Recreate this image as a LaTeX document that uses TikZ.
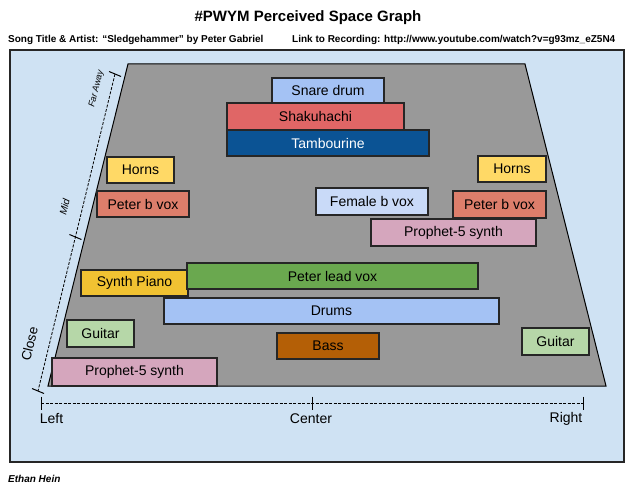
\documentclass[tikz,border=0pt]{standalone}
\usepackage{fontspec}
\setmainfont{Liberation Sans}
\usetikzlibrary{calc}
\definecolor{panelblue}{HTML}{CFE2F3}
\definecolor{trapgray}{HTML}{999999}
\definecolor{cSnare}{HTML}{A4C2F4}
\definecolor{cShaku}{HTML}{E06666}
\definecolor{cTamb}{HTML}{0B5394}
\definecolor{cHorns}{HTML}{FFD966}
\definecolor{cPbv}{HTML}{DD7E6B}
\definecolor{cFem}{HTML}{C9DAF8}
\definecolor{cPro}{HTML}{D5A6BD}
\definecolor{cSynth}{HTML}{F1C232}
\definecolor{cLead}{HTML}{6AA84F}
\definecolor{cGuit}{HTML}{B6D7A8}
\definecolor{cBass}{HTML}{B45F06}
\begin{document}
\begin{tikzpicture}[x=1pt,y=-1pt,
  box/.style={draw=black!85,line width=1.3pt,inner sep=0pt,font=\fontsize{14}{16}\selectfont},
  panelbox/.style={draw=black!85,line width=1.5pt,fill=panelblue,inner sep=0pt},
  trap/.style={draw=black,line width=1pt,fill=trapgray},
  axisdash/.style={line width=0.8pt,dash pattern=on 3pt off 1.5pt},
  tickline/.style={line width=1pt},
  axislabel/.style={font=\fontsize{14}{16}\selectfont,inner sep=0pt},
  toptext/.style={font=\fontsize{10}{12}\selectfont\bfseries,inner sep=0pt,anchor=west}]
\useasboundingbox[fill=white] (0,0) rectangle (638,500);
% title and header texts
\node[font=\fontsize{15}{18}\selectfont\bfseries,inner sep=0pt] (title) at (308,18) {\#PWYM Perceived Space Graph};
\node[toptext] (song) at (8,40) {Song Title \& Artist: “Sledgehammer” by Peter Gabriel};
\node[toptext] (link) at (292,40) {Link to Recording: http://www.youtube.com/watch?v=g93mz\_eZ5N4};
\node[toptext,font=\fontsize{10}{12}\selectfont\bfseries\itshape] (author) at (8,479) {Ethan Hein};
% panel
\node[panelbox,minimum width=614pt,minimum height=412pt] (panel) at (317,256) {};
% trapezoid
\coordinate (tl) at (128,64);
\coordinate (tr) at (525,64);
\coordinate (br) at (606,386);
\coordinate (bl) at (48,386);
\draw[trap] (tl) -- (tr) -- (br) -- (bl) -- cycle;
% horizontal axis
\coordinate (hl) at (41,403);
\coordinate (hc) at (312,403);
\coordinate (hr) at (583,403);
\draw[axisdash] (hl) -- (hr);
\foreach \p in {hl,hc,hr}{\draw[tickline] ($(\p)+(0,-6.5)$) -- ($(\p)+(0,6.5)$);}
\node[axislabel] (lleft) at (51.5,419) {Left};
\node[axislabel] (lcenter) at (311,419) {Center};
\node[axislabel] (lright) at (566,419) {Right};
% vertical (depth) axis
\coordinate (vt) at (115,74);
\coordinate (vm) at (75.4,237);
\coordinate (vb) at (38,391);
\draw[axisdash] (vt) -- (vb);
\foreach \p in {vt,vm,vb}{\draw[tickline] ($(\p)+(-6,-2.5)$) -- ($(\p)+(6,2.5)$);}
\node[inner sep=0pt,rotate=76.3,font=\fontsize{9}{11}\selectfont\itshape] (far) at (96.5,89) {Far Away};
\node[inner sep=0pt,rotate=76.3,font=\fontsize{10}{12}\selectfont\itshape] (mid) at (64.5,207) {Mid};
\node[inner sep=0pt,rotate=76.3,font=\fontsize{13.5}{16}\selectfont] (close) at (29.5,344) {Close};
% instrument boxes
\node[box,fill=cTamb,text=white,minimum width=202pt,minimum height=26pt] (tamb) at (328,143) {Tambourine};
\node[box,fill=cShaku,minimum width=177pt,minimum height=27pt] (shaku) at (315.5,116.5) {Shakuhachi};
\node[box,fill=cSnare,minimum width=112pt,minimum height=25pt] (snare) at (328,90.5) {Snare drum};
\node[box,fill=cHorns,minimum width=67pt,minimum height=26pt] (hornsL) at (140.5,170) {Horns};
\node[box,fill=cPbv,minimum width=92pt,minimum height=26pt] (pbvL) at (143,204) {Peter b vox};
\node[box,fill=cHorns,minimum width=68pt,minimum height=26pt] (hornsR) at (512,169) {Horns};
\node[box,fill=cFem,minimum width=112pt,minimum height=27pt] (fem) at (372,201.5) {Female b vox};
\node[box,fill=cPbv,minimum width=93pt,minimum height=27pt] (pbvR) at (499.5,204.5) {Peter b vox};
\node[box,fill=cPro,minimum width=165pt,minimum height=27pt] (proR) at (453.5,232.5) {Prophet-5 synth};
\node[box,fill=cSynth,minimum width=107pt,minimum height=26pt] (synthp) at (134.5,283) {Synth Piano};
\node[box,fill=cLead,minimum width=291pt,minimum height=26pt] (lead) at (332.5,276) {Peter lead vox};
\node[box,fill=cSnare,minimum width=335pt,minimum height=26pt] (drums) at (331.5,311) {Drums};
\node[box,fill=cGuit,minimum width=67pt,minimum height=27pt] (guitL) at (100.5,333.5) {Guitar};
\node[box,fill=cBass,minimum width=102pt,minimum height=26pt] (bass) at (328,346) {Bass};
\node[box,fill=cGuit,minimum width=67pt,minimum height=27pt] (guitR) at (555.5,341.5) {Guitar};
\node[box,fill=cPro,minimum width=165pt,minimum height=28pt] (proL) at (134.5,372) {Prophet-5 synth};
\end{tikzpicture}
\end{document}
